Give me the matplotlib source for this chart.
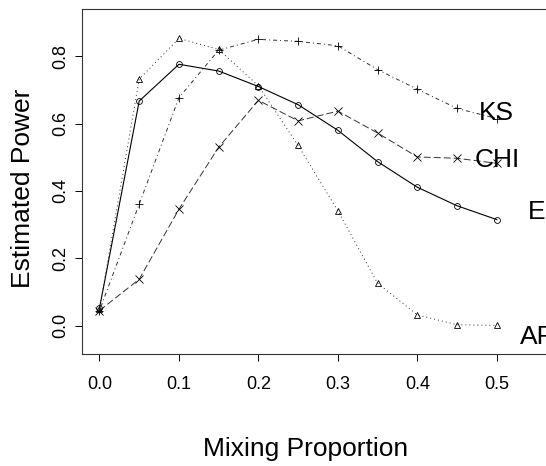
import matplotlib
matplotlib.use('Agg')
import matplotlib.pyplot as plt

plt.rcParams['font.family'] = ['Liberation Sans', 'DejaVu Sans']
plt.rcParams['lines.scale_dashes'] = False

# mixing proportions and estimated power per test
mix = [0.0, 0.05, 0.1, 0.15, 0.2, 0.25, 0.3, 0.35, 0.4, 0.45, 0.5]
power_e = [0.052, 0.667, 0.776, 0.756, 0.710, 0.656, 0.580, 0.487, 0.411, 0.356, 0.315]
power_ks = [0.045, 0.361, 0.677, 0.818, 0.850, 0.844, 0.831, 0.760, 0.702, 0.645, 0.615]
power_chi = [0.045, 0.138, 0.346, 0.530, 0.669, 0.608, 0.637, 0.572, 0.501, 0.497, 0.482]
power_af = [0.050, 0.732, 0.853, 0.820, 0.712, 0.535, 0.341, 0.126, 0.032, 0.003, 0.001]

# curve labels and where they sit
label_names = ['KS', 'CHI', 'E', 'AF']
label_x = [0.5, 0.5, 0.55, 0.55]
label_y = [0.63, 0.492, 0.338, -0.034]

xticks = [0.0, 0.1, 0.2, 0.3, 0.4, 0.5]
yticks = [0.0, 0.2, 0.4, 0.6, 0.8]

fig = plt.figure(figsize=(5.46, 4.66), dpi=100)
ax = fig.add_axes([0.1502, 0.2403, 0.8645, 0.7403])

mk = dict(markerfacecolor='none', markeredgecolor='black', markeredgewidth=0.6)
ax.plot(mix, power_e, color='black', lw=0.8, linestyle='-', marker='o', markersize=4.2, **mk)
ax.plot(mix, power_ks, color='#333333', lw=0.7, linestyle=(0, (0.72, 2.16, 2.88, 2.16)),
        marker='+', markersize=6, **mk)
ax.plot(mix, power_chi, color='#333333', lw=0.7, linestyle=(0, (5.0, 2.2)),
        marker='x', markersize=5.5, **mk)
ax.plot(mix, power_af, color='#333333', lw=0.7, linestyle=(0, (0.72, 2.16)),
        marker='^', markersize=4.2, **mk)

for name, tx, ty in zip(label_names, label_x, label_y):
    ax.text(tx, ty, name, fontsize=19, ha='center', va='center', clip_on=False)

ax.set_xlim(-0.022, 0.572)
ax.set_ylim(-0.084, 0.940)
ax.set_xticks(xticks)
ax.set_xticklabels(['%.1f' % t for t in xticks])
ax.set_yticks(yticks)
ax.set_yticklabels(['%.1f' % t for t in yticks], rotation=90, va='center')
ax.tick_params(axis='x', direction='out', length=5, width=0.7, labelsize=13, pad=11)
ax.tick_params(axis='y', direction='out', length=5, width=0.7, labelsize=13, pad=4)

for s in ax.spines.values():
    s.set_linewidth(0.8)
    s.set_color('#333333')

ax.set_xlabel('Mixing Proportion', fontsize=19, va='center')
ax.xaxis.set_label_coords(0.4746, -0.274)
ax.set_ylabel('Estimated Power', fontsize=19, va='center')
ax.yaxis.set_label_coords(-0.125, 0.481)

fig.savefig('out.png', dpi=100)
